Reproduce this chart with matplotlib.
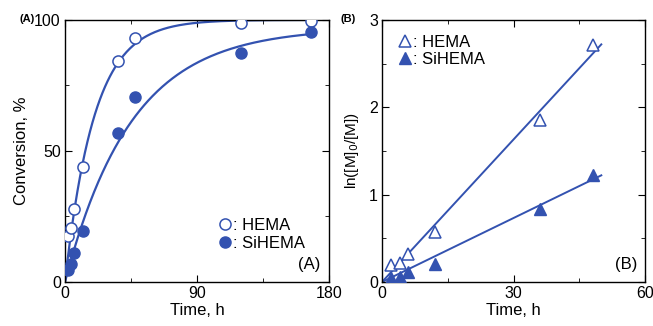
import matplotlib
matplotlib.use("Agg")
import matplotlib.pyplot as plt
import numpy as np
from matplotlib.ticker import MultipleLocator

plt.rcParams['font.family'] = ['Liberation Sans', 'DejaVu Sans']

# data
time_conv = [2, 4, 6, 12, 36, 48, 120, 168]
hema_conv = [17.5, 20.5, 28, 44, 84.5, 93, 98.8, 99.5]
sihema_conv = [4.5, 7, 11, 19.5, 57, 70.5, 87.5, 95.5]

time_ln = [2, 4, 6, 12, 36, 48]
hema_ln = [0.19, 0.22, 0.32, 0.57, 1.85, 2.71]
sihema_ln = [0.04, 0.06, 0.11, 0.21, 0.84, 1.23]

# fitted curve parameters for panel A: conv = cmax * (1 - exp(-k t))
hema_fit = (100.0, 0.05)
sihema_fit = (97.0, 0.022)

blue = '#3352b0'

fig = plt.figure(figsize=(6.53, 3.26), dpi=100)
axA = fig.add_axes([0.0995, 0.135, 0.404, 0.804])
axB = fig.add_axes([0.585, 0.135, 0.403, 0.804])

# ---- panel A
tt = np.linspace(0, 170, 300)
for (cmax, k) in (hema_fit, sihema_fit):
    axA.plot(tt, cmax * (1 - np.exp(-k * tt)), color=blue, lw=1.6, zorder=2)
axA.plot(time_conv, hema_conv, 'o', ms=8, mfc='white', mec=blue, mew=1.1,
         label=': HEMA', zorder=3)
axA.plot(time_conv, sihema_conv, 'o', ms=8, color=blue, label=': SiHEMA', zorder=3)
axA.set_xlim(0, 180)
axA.set_ylim(0, 100)
axA.xaxis.set_major_locator(MultipleLocator(90))
axA.xaxis.set_minor_locator(MultipleLocator(45))
axA.yaxis.set_major_locator(MultipleLocator(50))
axA.yaxis.set_minor_locator(MultipleLocator(25))
axA.set_xlabel('Time, h', fontsize=12, labelpad=1)
axA.set_ylabel('Conversion, %', fontsize=12, labelpad=4)
axA.legend(loc='upper left', bbox_to_anchor=(0.555, 0.275), frameon=False,
           handlelength=0.6, handletextpad=0.2, fontsize=12, borderpad=0,
           labelspacing=0.15)
axA.text(0.97, 0.04, '(A)', transform=axA.transAxes, ha='right', va='bottom', fontsize=12)
fig.text(35 / 653, 1 - 19 / 326, '(A)', ha='right', va='center',
         fontsize=8, fontweight='bold')

# ---- panel B
kh = np.dot(time_ln, hema_ln) / np.dot(time_ln, time_ln)
ks = np.dot(time_ln, sihema_ln) / np.dot(time_ln, time_ln)
tl = np.array([0, 50])
axB.plot(tl, kh * tl, color=blue, lw=1.4, zorder=2)
axB.plot(tl, ks * tl, color=blue, lw=1.4, zorder=2)
axB.plot(time_ln, hema_ln, '^', ms=8, mfc='white', mec=blue, mew=1.1,
         label=': HEMA', zorder=3)
axB.plot(time_ln, sihema_ln, '^', ms=8, color=blue, label=': SiHEMA', zorder=3)
axB.set_xlim(0, 60)
axB.set_ylim(0, 3)
axB.xaxis.set_major_locator(MultipleLocator(30))
axB.xaxis.set_minor_locator(MultipleLocator(15))
axB.yaxis.set_major_locator(MultipleLocator(1))
axB.yaxis.set_minor_locator(MultipleLocator(0.5))
axB.set_xlabel('Time, h', fontsize=12, labelpad=1)
axB.set_ylabel('ln([M]$_0$/[M])', fontsize=11, labelpad=6)
axB.legend(loc='upper left', bbox_to_anchor=(0.035, 0.975), frameon=False,
           handlelength=0.6, handletextpad=0.2, fontsize=12, borderpad=0,
           labelspacing=0.15)
axB.text(0.97, 0.04, '(B)', transform=axB.transAxes, ha='right', va='bottom', fontsize=12)
fig.text(356 / 653, 1 - 19 / 326, '(B)', ha='right', va='center',
         fontsize=8, fontweight='bold')

for ax in (axA, axB):
    ax.tick_params(which='both', direction='in', top=True, right=True,
                   labelsize=11.5, pad=3)
    ax.tick_params(which='major', length=5)
    ax.tick_params(which='minor', length=3)
    for s in ax.spines.values():
        s.set_linewidth(1.0)

fig.savefig('out.png', dpi=100)
